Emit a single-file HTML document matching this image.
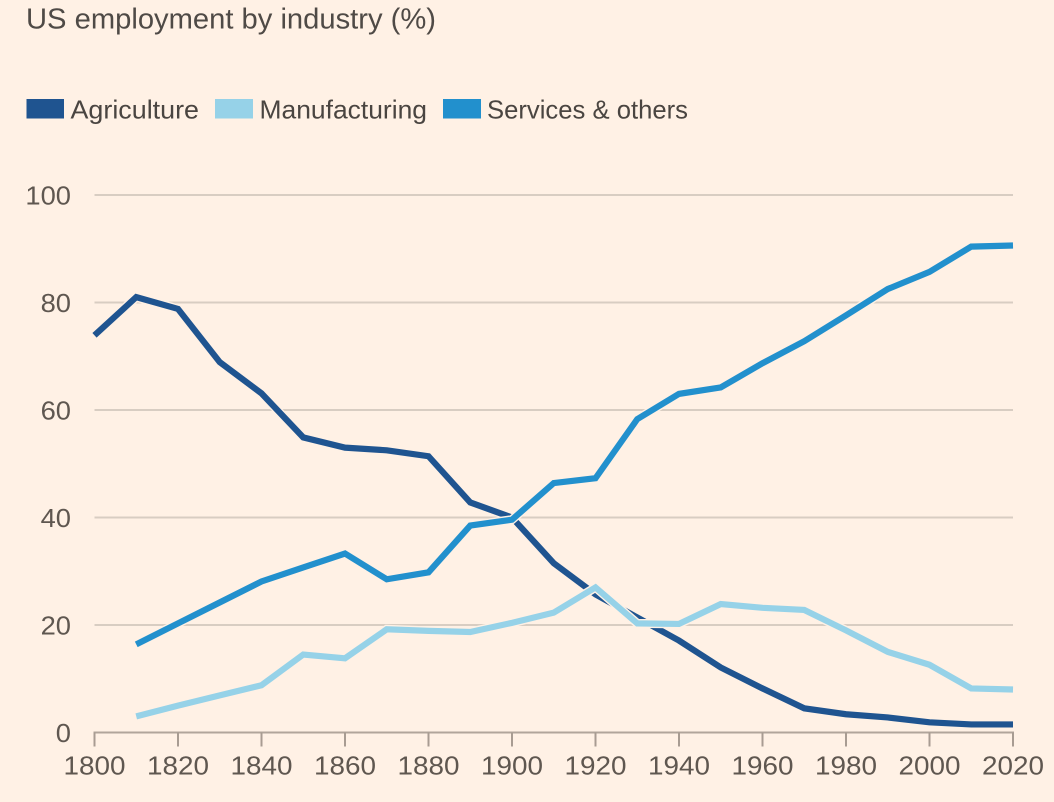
<!DOCTYPE html>
<html lang="en">
<head>
<meta charset="utf-8">
<title>US employment by industry</title>
<style>
html,body{margin:0;padding:0;background:#fff1e5;}
body{width:1054px;height:802px;overflow:hidden;}
svg{display:block;font-family:"Liberation Sans",sans-serif;}
</style>
</head>
<body>
<svg id="chart" width="1054" height="802" viewBox="0 0 1054 802" xmlns="http://www.w3.org/2000/svg">
  <rect x="0" y="0" width="1054" height="802" fill="#fff1e5"/>
  <text x="26" y="28.5" font-size="29" fill="#4f4a46" textLength="410" lengthAdjust="spacingAndGlyphs">US employment by industry (%)</text>
  <g>
    <rect x="26.5" y="99" width="37.5" height="19.5" fill="#1f5490"/>
    <text x="70.5" y="118.5" font-size="26" fill="#4a4541" textLength="128.5" lengthAdjust="spacingAndGlyphs">Agriculture</text>
    <rect x="215" y="99" width="38" height="19.5" fill="#96d2e8"/>
    <text x="259.500" y="118.5" font-size="26" fill="#4a4541" textLength="167.5" lengthAdjust="spacingAndGlyphs">Manufacturing</text>
    <rect x="443" y="99" width="38" height="19.5" fill="#2290cd"/>
    <text x="487" y="118.5" font-size="26" fill="#4a4541" textLength="201" lengthAdjust="spacingAndGlyphs">Services &amp; others</text>
  </g>
  <g id="grid"></g>
  <g id="yLabels"></g>
  <g id="xAxis"></g>
  <g id="series"></g>
</svg>
<script>
const years = [1800,1810,1820,1830,1840,1850,1860,1870,1880,1890,1900,1910,1920,1930,1940,1950,1960,1970,1980,1990,2000,2010,2020];
const agriculture = [73.9,81,78.8,68.9,63.1,54.9,53,52.5,51.4,42.8,40,31.5,25.7,21.4,17.1,12.1,8.2,4.5,3.4,2.8,1.9,1.5,1.5];
const manufacturing = [null,3,5,6.9,8.8,14.5,13.8,19.2,18.9,18.7,20.4,22.3,27,20.3,20.2,23.9,23.2,22.8,19,15,12.6,8.2,8];
const services = [null,16.4,20.3,24.2,28.1,30.7,33.3,28.5,29.8,38.5,39.6,46.4,47.3,58.3,63,64.2,68.7,72.8,77.6,82.5,85.7,90.4,90.6];
const yTicks = [0,20,40,60,80,100];
const xTicks = [1800,1820,1840,1860,1880,1900,1920,1940,1960,1980,2000,2020];

const NS = 'http://www.w3.org/2000/svg';
const x = function (v) { return 94.5 + (v - 1800) * (1013 - 94.5) / 220; };
const y = function (v) { return 732.5 - v * (732.5 - 195) / 100; };

function make(parent, tag) {
  const el = document.createElementNS(NS, tag);
  parent.appendChild(el);
  return el;
}

const grid = document.getElementById('grid');
const yLabels = document.getElementById('yLabels');
yTicks.forEach(function (t) {
  if (t !== 0) {
    const line = make(grid, 'line');
    
    
    line.setAttribute('x1', x(1800));
    line.setAttribute('x2', x(2020));
    line.setAttribute('y1', y(t));
    line.setAttribute('y2', y(t));
    line.setAttribute('stroke', '#d8cdc2');
    line.setAttribute('stroke-width', '2');
  }
  const label = make(yLabels, 'text');
  
  
  label.setAttribute('x', 71);
  label.setAttribute('y', y(t) + 9.5);
  label.setAttribute('text-anchor', 'end');
  label.setAttribute('font-size', '26');
  label.setAttribute('fill', '#5f5750');
  label.setAttribute('textLength', String(t).length * 15.2);
  label.setAttribute('lengthAdjust', 'spacingAndGlyphs');
  label.textContent = t;
});

const xAxis = document.getElementById('xAxis');
const baseline = make(xAxis, 'line');


baseline.setAttribute('x1', x(1800) - 1);
baseline.setAttribute('x2', x(2020) + 1);
baseline.setAttribute('y1', y(0));
baseline.setAttribute('y2', y(0));
baseline.setAttribute('stroke', '#b1a59b');
baseline.setAttribute('stroke-width', '2');
xTicks.forEach(function (t) {
  const tick = make(xAxis, 'line');
  
  
  tick.setAttribute('x1', x(t));
  tick.setAttribute('x2', x(t));
  tick.setAttribute('y1', y(0));
  tick.setAttribute('y2', y(0) + 14);
  tick.setAttribute('stroke', '#a89c92');
  tick.setAttribute('stroke-width', '2');
  const label = make(xAxis, 'text');
  
  
  label.setAttribute('x', x(t));
  label.setAttribute('y', 774.5);
  label.setAttribute('text-anchor', 'middle');
  label.setAttribute('font-size', '26');
  label.setAttribute('fill', '#5f5750');
  label.setAttribute('textLength', '62');
  label.setAttribute('lengthAdjust', 'spacingAndGlyphs');
  label.textContent = t;
});

function pathFor(values) {
  let d = '';
  values.forEach(function (v, i) {
    if (v === null) return;
    d += (d ? 'L' : 'M') + x(years[i]).toFixed(2) + ' ' + y(v).toFixed(2);
  });
  return d;
}

const seriesGroup = document.getElementById('series');
function drawSeries(values, colour, key) {
  const halo = make(seriesGroup, 'path');
  
  
  halo.setAttribute('d', pathFor(values));
  halo.setAttribute('fill', 'none');
  halo.setAttribute('stroke', '#fff1e5');
  halo.setAttribute('stroke-width', '9');
  halo.setAttribute('stroke-linejoin', 'miter');
  const line = make(seriesGroup, 'path');
  
  
  line.setAttribute('d', pathFor(values));
  line.setAttribute('fill', 'none');
  line.setAttribute('stroke', colour);
  line.setAttribute('stroke-width', '6.2');
  line.setAttribute('stroke-linejoin', 'miter');
}
drawSeries(agriculture, '#1f5490', 'agriculture');
drawSeries(services, '#2290cd', 'services');
drawSeries(manufacturing, '#96d2e8', 'manufacturing');
</script>
</body>
</html>
